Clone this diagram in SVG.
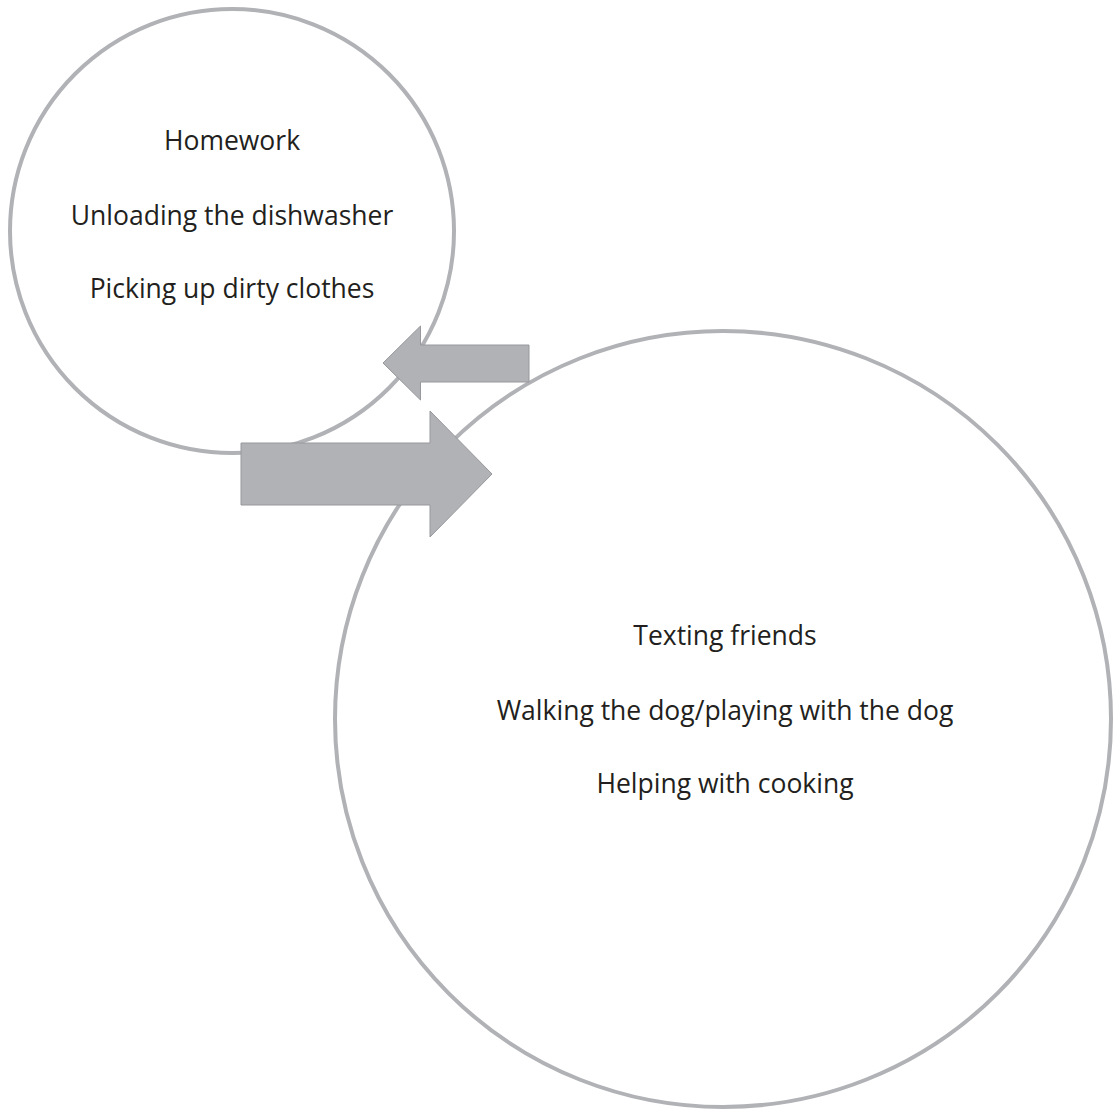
<svg xmlns="http://www.w3.org/2000/svg" width="1113" height="1111" viewBox="0 0 1113 1111">
  <style>
    .ring { fill: none; stroke: #b1b2b6; stroke-width: 4; }
    .arrow { fill: #b1b2b6; stroke: #97989c; stroke-width: 1; }
    .label { font-family: "Open Sans", "Liberation Sans", sans-serif; font-size: 26.5px; fill: #231f20; text-anchor: middle; }
  </style>
  <rect width="1113" height="1111" fill="#ffffff"/>
  <g id="node-small">
    <circle class="ring" cx="232" cy="231" r="222"/>
    <text class="label" x="232" y="150">Homework</text>
    <text class="label" x="232" y="225">Unloading the dishwasher</text>
    <text class="label" x="232" y="298">Picking up dirty clothes</text>
  </g>
  <g id="node-large">
    <circle class="ring" cx="723" cy="719" r="388"/>
    <text class="label" x="725" y="645">Texting friends</text>
    <text class="label" x="725" y="720">Walking the dog/playing with the dog</text>
    <text class="label" x="725" y="793">Helping with cooking</text>
  </g>
  <g id="connectors">
    <polygon class="arrow" points="529,345 420.5,345 420.5,326 383,363 420.5,400 420.5,382 529,382"/>
    <polygon class="arrow" points="241,443 430,443 430,411 492,474 430,537 430,505 241,505"/>
  </g>
</svg>
